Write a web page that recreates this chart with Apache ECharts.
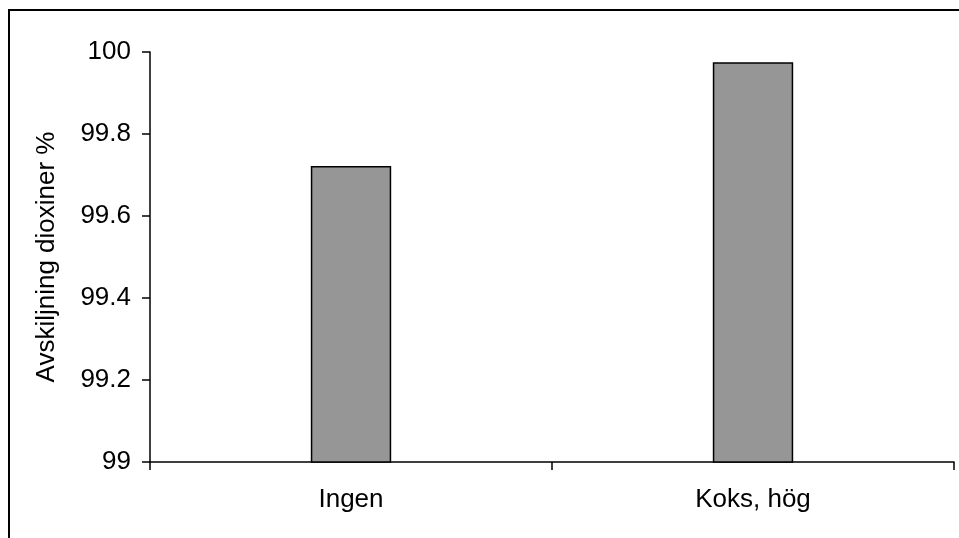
<!DOCTYPE html>
<html>
<head>
<meta charset="utf-8">
<script src="https://cdn.jsdelivr.net/npm/echarts@6/dist/echarts.min.js"></script>
<style>
  html, body { margin: 0; padding: 0; background: #fff; }
  #chart { width: 959px; height: 538px; }
</style>
</head>
<body>
<div id="chart"></div>
<script>
// Dioxin removal efficiency per carbon dosing case
const categories = ['Ingen', 'Koks, hög'];
const removal = [99.722, 99.975];
const yTicks = [99, 99.2, 99.4, 99.6, 99.8, 100];
const yTitle = 'Avskiljning dioxiner %';

const chart = echarts.init(document.getElementById('chart'), null, { renderer: 'canvas' });
const font = 'Liberation Sans, Arial, sans-serif';

chart.setOption({
  animation: false,
  backgroundColor: '#ffffff',
  grid: { left: 150, right: 5, top: 52, bottom: 76 },
  graphic: [{
    type: 'rect',
    shape: { x: 9, y: 10, width: 1000, height: 600 },
    style: { fill: 'none', stroke: '#000', lineWidth: 2 },
    silent: true
  }],
  xAxis: {
    type: 'category',
    data: categories,
    boundaryGap: true,
    axisLine: { lineStyle: { color: '#000', width: 1.5 } },
    axisTick: { show: true, length: 8, inside: false, lineStyle: { color: '#000', width: 1.5 } },
    axisLabel: { color: '#000', fontFamily: font, fontSize: 26, margin: 25 },
    splitLine: { show: false }
  },
  yAxis: {
    type: 'value',
    min: yTicks[0],
    max: yTicks[yTicks.length - 1],
    interval: 0.2,
    name: yTitle,
    nameLocation: 'middle',
    nameGap: 90,
    nameRotate: 90,
    nameTextStyle: { color: '#000', fontFamily: font, fontSize: 26 },
    axisLine: { show: true, lineStyle: { color: '#000', width: 1.5 } },
    axisTick: { show: true, length: 8, lineStyle: { color: '#000', width: 1.5 } },
    axisLabel: {
      color: '#000', fontFamily: font, fontSize: 26, margin: 19,
      formatter: v => String(Math.round(v * 10) / 10)
    },
    splitLine: { show: false }
  },
  series: [{
    type: 'bar',
    data: removal,
    barWidth: '20%',
    itemStyle: { color: '#969696', borderColor: '#000', borderWidth: 1.5 }
  }]
});
</script>
</body>
</html>
